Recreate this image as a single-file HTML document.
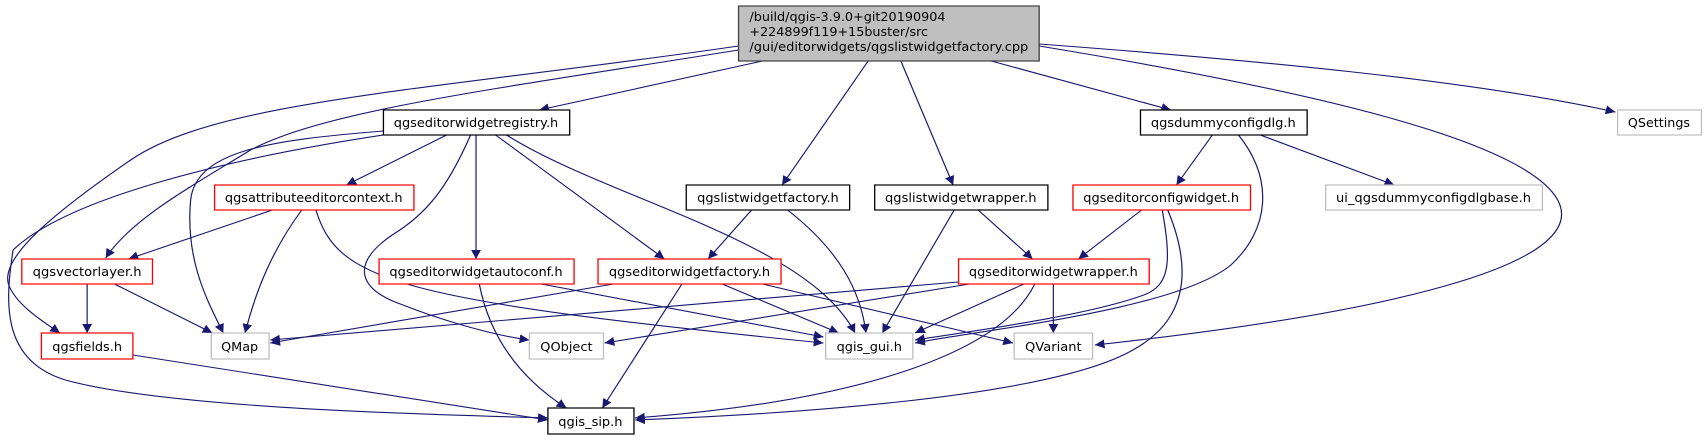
<!DOCTYPE html>
<html><head><meta charset="utf-8"><style>
html,body{margin:0;padding:0;background:#fff;}
svg{display:block;}
text{font-family:"DejaVu Sans","Liberation Sans",sans-serif;font-size:12.5px;fill:#000;}
</style></head><body>
<svg width="1708" height="440" viewBox="0 0 1568 440" preserveAspectRatio="none" xmlns="http://www.w3.org/2000/svg">
<defs><marker id="a" viewBox="0 0 10 10" refX="10" refY="5" markerWidth="9" markerHeight="9" markerUnits="userSpaceOnUse" orient="auto"><path d="M0,0L10,5L0,10z" fill="#191970"/></marker></defs>
<g fill="none" stroke="#191970" stroke-width="1.1" marker-end="url(#a)">
<path d="M700,61L495,110"/>
<path d="M797,61L718,185"/>
<path d="M827,61L875,185"/>
<path d="M910,61L1075,110"/>
<path d="M954,44C1150,60 1350,80 1483,112"/>
<path d="M954,46C1200,90 1400,140 1430,200C1460,260 1300,310 1005,345"/>
<path d="M678,46C400,90 200,100 120,160C40,220 0,260 8,285C15,305 40,322 55,333"/>
<path d="M678,50C450,90 300,110 230,150C170,190 120,220 97,258"/>
<path d="M410,135L318,185"/>
<path d="M352,131C250,140 180,150 175,200C170,260 190,300 205,333"/>
<path d="M352,135C200,160 60,200 12,250C5,300 0,360 60,380C160,410 420,415 503,418"/>
<path d="M432,135C410,190 390,215 360,235C320,265 330,290 370,305C400,318 450,335 486,340"/>
<path d="M437,135L437,259"/>
<path d="M455,135L610,259"/>
<path d="M465,135C560,200 740,240 785,333"/>
<path d="M250,210L118,259"/>
<path d="M277,210C250,250 235,290 225,333"/>
<path d="M290,210C310,280 360,300 756,343"/>
<path d="M80,284L80,333"/>
<path d="M105,284L195,333"/>
<path d="M122,355L503,420"/>
<path d="M690,210L650,259"/>
<path d="M723,210C770,250 790,290 795,333"/>
<path d="M876,210L810,333"/>
<path d="M898,210L948,259"/>
<path d="M1113,135L1080,185"/>
<path d="M1157,135L1280,185"/>
<path d="M1137,135C1170,180 1165,230 1130,265C1080,310 900,330 840,343"/>
<path d="M1048,210L990,259"/>
<path d="M1067,210C1075,260 1075,285 1050,295C1000,315 900,330 840,340"/>
<path d="M1072,210C1095,270 1090,320 1040,350C960,400 700,415 583,420"/>
<path d="M497,284L756,337"/>
<path d="M440,284C450,340 480,380 520,408"/>
<path d="M563,284L248,343"/>
<path d="M626,284L553,408"/>
<path d="M663,284L770,333"/>
<path d="M700,284L930,343"/>
<path d="M880,282L248,340"/>
<path d="M890,284L555,343"/>
<path d="M940,284L840,333"/>
<path d="M967,284L967,333"/>
<path d="M950,284C920,350 800,400 583,418"/>
</g>
<g stroke-width="1.2">
<rect x="678" y="6" width="276" height="55" fill="#bfbfbf" stroke="#404040"/>
<rect x="352" y="110" width="171" height="25" fill="#fff" stroke="#000"/>
<rect x="1047" y="110" width="153" height="25" fill="#fff" stroke="#000"/>
<rect x="1485" y="110" width="77" height="25" fill="#fff" stroke="#bfbfbf"/>
<rect x="197" y="185" width="183" height="25" fill="#fff" stroke="#f00"/>
<rect x="630" y="185" width="150" height="25" fill="#fff" stroke="#000"/>
<rect x="803" y="185" width="159" height="25" fill="#fff" stroke="#000"/>
<rect x="985" y="185" width="163" height="25" fill="#fff" stroke="#f00"/>
<rect x="1217" y="185" width="199" height="25" fill="#fff" stroke="#bfbfbf"/>
<rect x="20" y="259" width="120" height="25" fill="#fff" stroke="#f00"/>
<rect x="348" y="259" width="179" height="25" fill="#fff" stroke="#f00"/>
<rect x="549" y="259" width="168" height="25" fill="#fff" stroke="#f00"/>
<rect x="880" y="259" width="175" height="25" fill="#fff" stroke="#f00"/>
<rect x="38" y="333" width="84" height="26" fill="#fff" stroke="#f00"/>
<rect x="194" y="333" width="53" height="26" fill="#fff" stroke="#bfbfbf"/>
<rect x="486" y="333" width="68" height="26" fill="#fff" stroke="#bfbfbf"/>
<rect x="758" y="333" width="80" height="26" fill="#fff" stroke="#bfbfbf"/>
<rect x="931" y="333" width="72" height="26" fill="#fff" stroke="#bfbfbf"/>
<rect x="503" y="408" width="79" height="26" fill="#fff" stroke="#000"/>
</g>
<g>
<text x="688" y="21" textLength="180" lengthAdjust="spacingAndGlyphs">/build/qgis-3.9.0+git20190904</text>
<text x="688" y="36" textLength="164" lengthAdjust="spacingAndGlyphs">+224899f119+15buster/src</text>
<text x="688" y="51" textLength="256" lengthAdjust="spacingAndGlyphs">/gui/editorwidgets/qgslistwidgetfactory.cpp</text>
<g text-anchor="middle">
<text x="437" y="127" textLength="151" lengthAdjust="spacingAndGlyphs">qgseditorwidgetregistry.h</text>
<text x="1123" y="127" textLength="133" lengthAdjust="spacingAndGlyphs">qgsdummyconfigdlg.h</text>
<text x="1523" y="127" textLength="57" lengthAdjust="spacingAndGlyphs">QSettings</text>
<text x="288" y="202" textLength="163" lengthAdjust="spacingAndGlyphs">qgsattributeeditorcontext.h</text>
<text x="705" y="202" textLength="130" lengthAdjust="spacingAndGlyphs">qgslistwidgetfactory.h</text>
<text x="882" y="202" textLength="139" lengthAdjust="spacingAndGlyphs">qgslistwidgetwrapper.h</text>
<text x="1066" y="202" textLength="143" lengthAdjust="spacingAndGlyphs">qgseditorconfigwidget.h</text>
<text x="1316" y="202" textLength="179" lengthAdjust="spacingAndGlyphs">ui_qgsdummyconfigdlgbase.h</text>
<text x="80" y="276" textLength="100" lengthAdjust="spacingAndGlyphs">qgsvectorlayer.h</text>
<text x="437" y="276" textLength="159" lengthAdjust="spacingAndGlyphs">qgseditorwidgetautoconf.h</text>
<text x="633" y="276" textLength="148" lengthAdjust="spacingAndGlyphs">qgseditorwidgetfactory.h</text>
<text x="967" y="276" textLength="155" lengthAdjust="spacingAndGlyphs">qgseditorwidgetwrapper.h</text>
<text x="80" y="351" textLength="64" lengthAdjust="spacingAndGlyphs">qgsfields.h</text>
<text x="220" y="351" textLength="34" lengthAdjust="spacingAndGlyphs">QMap</text>
<text x="520" y="351" textLength="48" lengthAdjust="spacingAndGlyphs">QObject</text>
<text x="798" y="351" textLength="60" lengthAdjust="spacingAndGlyphs">qgis_gui.h</text>
<text x="967" y="351" textLength="52" lengthAdjust="spacingAndGlyphs">QVariant</text>
<text x="542" y="426" textLength="59" lengthAdjust="spacingAndGlyphs">qgis_sip.h</text>
</g>
</g>
</svg>
</body></html>
